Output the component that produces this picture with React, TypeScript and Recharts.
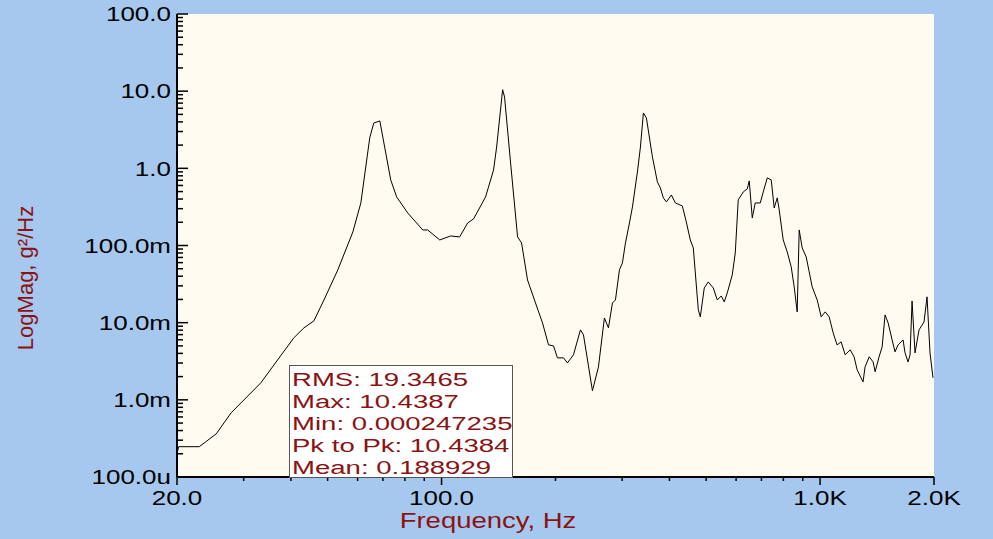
import { CartesianGrid, Line, LineChart, XAxis, YAxis } from "recharts";

// frequency axis, Hz
const freqHz = [
    20, 20.2, 22.9, 25.4, 27.8, 33.3, 40.7, 43.3, 46.0, 48.9,
    53.2, 58.3, 61.2, 64.6, 66.2, 68.7, 73.4, 76.1, 81.4, 89.2,
    91.9, 98.9, 105.7, 111.6, 117.2, 121.5, 130.7, 137.2, 139.8, 145.0,
    146.7, 152.2, 158.8, 162.7, 168.7, 177.1, 184.8, 191.7, 197.6, 202.4,
    210.0, 215.1, 223.1, 232.8, 237.1, 250.4, 259.7, 269.3, 276.0, 282.8,
    288.0, 295.1, 300.5, 306.1, 313.6, 319.4, 329.2, 335.3, 341.4, 347.7,
    360.6, 371.7, 378.5, 385.5, 392.6, 404.7, 414.7, 432.6, 443.2, 454.1,
    462.5, 476.8, 482.6, 494.4, 506.6, 522.2, 535.1, 548.3, 558.3, 568.6,
    586.2, 597.0, 607.9, 626.7, 642.2, 650.0, 662.0, 674.1, 695.0, 707.7,
    725.2, 743.0, 756.6, 770.7, 780.0, 799.2, 818.8, 839.0, 854.4, 870.1,
    880.8, 897.0, 919.1, 936.0, 953.2, 982.6, 1007, 1032, 1057, 1083,
    1109, 1137, 1165, 1201, 1230, 1253, 1299, 1315, 1348, 1381,
    1398, 1432, 1459, 1485, 1513, 1550, 1578, 1607, 1657, 1677,
    1708, 1729, 1750, 1782, 1826, 1882, 1917, 1952, 1988,
];

// PSD, g²/Hz
const psd = [
    2.0e-4, 2.47e-4, 2.47e-4, 3.63e-4, 6.79e-4, 1.66e-3, 6.35e-3, 8.57e-3, 1.055e-2, 1.97e-2,
    0.0483, 0.15, 0.356, 2.48, 3.87, 4.11, 0.708, 0.426, 0.264, 0.159,
    0.159, 0.118, 0.133, 0.129, 0.196, 0.221, 0.426, 0.953, 1.89, 10.44,
    8.41, 1.17, 0.129, 0.108, 0.0358, 0.018, 0.00993, 0.00515, 0.005, 0.0035,
    0.0035, 0.00301, 0.00383, 0.00807, 0.00695, 0.00131, 0.00267, 0.0115, 0.00857, 0.018,
    0.0197, 0.0483, 0.0596, 0.108, 0.196, 0.316, 0.898, 1.89, 5.22, 4.5,
    1.41, 0.667, 0.557, 0.414, 0.367, 0.452, 0.356, 0.326, 0.202, 0.118,
    0.0931, 0.0147, 0.0119, 0.0282, 0.0337, 0.0282, 0.0197, 0.0222, 0.0186, 0.0243,
    0.0416, 0.0802, 0.39, 0.494, 0.541, 0.687, 0.228, 0.356, 0.356, 0.494,
    0.752, 0.708, 0.307, 0.414, 0.289, 0.118, 0.0826, 0.0528, 0.0291, 0.0138,
    0.159, 0.0931, 0.0711, 0.0455, 0.0291, 0.0197, 0.0119, 0.0138, 0.0119, 0.00738,
    0.00515, 0.00564, 0.00383, 0.00445, 0.00361, 0.00245, 0.00171, 0.00267, 0.00361, 0.0031,
    0.00231, 0.00361, 0.00486, 0.0126, 0.00993, 0.00598, 0.00419, 0.00515, 0.00598, 0.00406,
    0.0031, 0.00383, 0.0191, 0.00406, 0.00807, 0.0102, 0.0216, 0.00406, 0.00193,
];

const yMajor = [1e-4, 1e-3, 1e-2, 1e-1, 1, 10, 100];
const yLabels = ["100.0u", "1.0m", "10.0m", "100.0m", "1.0", "10.0", "100.0"];
const xMajor = [20, 100, 1000, 2000];
const xLabels = ["20.0", "100.0", "1.0K", "2.0K"];
const minorSteps = [2, 3, 4, 5, 6, 7, 8, 9];

const statLines = [
    "RMS: 19.3465",
    "Max: 10.4387",
    "Min: 0.000247235",
    "Pk to Pk: 10.4384",
    "Mean: 0.188929",
];

const data = freqHz.map((f, i) => ({ f, v: psd[i] }));

const yTicks = [
    ...yMajor,
    ...yMajor.slice(0, -1).flatMap((d) => minorSteps.map((k) => k * d)),
];
const xTicks = [
    ...xMajor,
    ...[10, 100].flatMap((d) => minorSteps.map((k) => k * d)).filter((v) => v > 20),
];

const findMajor = (list: number[], v: number) =>
    list.findIndex((m) => Math.abs(m - v) / m < 1e-6);

const BG = "#a6c8ef";
const PLOT = "#fffbf0";
const RED = "#8b1212";
const FONT = "'Liberation Sans', Arial, sans-serif";

const YTick = (props: any) => {
    const { x, y, payload } = props;
    const i = findMajor(yMajor, payload.value);
    return (
        <g>
            <line x1={x} x2={x + (i >= 0 ? 11 : 6)} y1={y} y2={y} stroke="#000" strokeWidth={1.5} />
            {i >= 0 && (
                <text
                    transform={`translate(${x - 6},${y}) scale(1.3,1)`}
                    textAnchor="end"
                    dy="0.36em"
                    fontSize={20}
                    fontFamily={FONT}
                    fill="#000"
                >
                    {yLabels[i]}
                </text>
            )}
        </g>
    );
};

const XTick = (props: any) => {
    const { x, y, payload } = props;
    const i = findMajor(xMajor, payload.value);
    return (
        <g>
            <line x1={x} x2={x} y1={y} y2={y + (i >= 0 ? 8 : 4)} stroke="#000" strokeWidth={1.5} />
            {i >= 0 && (
                <text
                    transform={`translate(${x},${y + 28}) scale(1.3,1)`}
                    textAnchor="middle"
                    fontSize={20}
                    fontFamily={FONT}
                    fill="#000"
                >
                    {xLabels[i]}
                </text>
            )}
        </g>
    );
};

export default function App() {
    return (
        <div style={{ position: "absolute", left: 0, top: 0, width: 993, height: 539, background: BG }}>
            <LineChart
                width={993}
                height={539}
                data={data}
                margin={{ top: 14, right: 59, bottom: 0, left: 0 }}
            >
                <CartesianGrid fill={PLOT} stroke="none" horizontal={false} vertical={false} />
                <XAxis
                    dataKey="f"
                    type="number"
                    scale="log"
                    domain={[20, 2000]}
                    allowDataOverflow
                    ticks={xTicks}
                    interval={0}
                    height={62}
                    tickSize={0}
                    tickMargin={0}
                    tickLine={false}
                    axisLine={{ stroke: "#000", strokeWidth: 2 }}
                    tick={<XTick />}
                />
                <YAxis
                    type="number"
                    scale="log"
                    domain={[1e-4, 100]}
                    allowDataOverflow
                    ticks={yTicks}
                    interval={0}
                    width={177}
                    tickSize={0}
                    tickMargin={0}
                    tickLine={false}
                    axisLine={{ stroke: "#000", strokeWidth: 2 }}
                    tick={<YTick />}
                />
                <Line
                    dataKey="v"
                    type="linear"
                    stroke="#000"
                    strokeWidth={1}
                    dot={false}
                    isAnimationActive={false}
                />
            </LineChart>
            <svg
                width={993}
                height={539}
                style={{ position: "absolute", left: 0, top: 0, pointerEvents: "none" }}
            >
                <text
                    transform="translate(33,278) rotate(-90)"
                    textAnchor="middle"
                    fontSize={22}
                    fontFamily={FONT}
                    fill={RED}
                >
                    LogMag, g²/Hz
                </text>
                <text
                    transform="translate(488,528) scale(1.25,1)"
                    textAnchor="middle"
                    fontSize={22}
                    fontFamily={FONT}
                    fill={RED}
                >
                    Frequency, Hz
                </text>
                <rect x={289.5} y={365.5} width={223} height={112} fill="#fff" stroke="#555" strokeWidth={1} />
                {statLines.map((s, i) => (
                    <text
                        key={s}
                        transform={`translate(292,${386 + i * 22}) scale(1.45,1)`}
                        fontSize={19}
                        fontFamily={FONT}
                        fill={RED}
                    >
                        {s}
                    </text>
                ))}
            </svg>
        </div>
    );
}
